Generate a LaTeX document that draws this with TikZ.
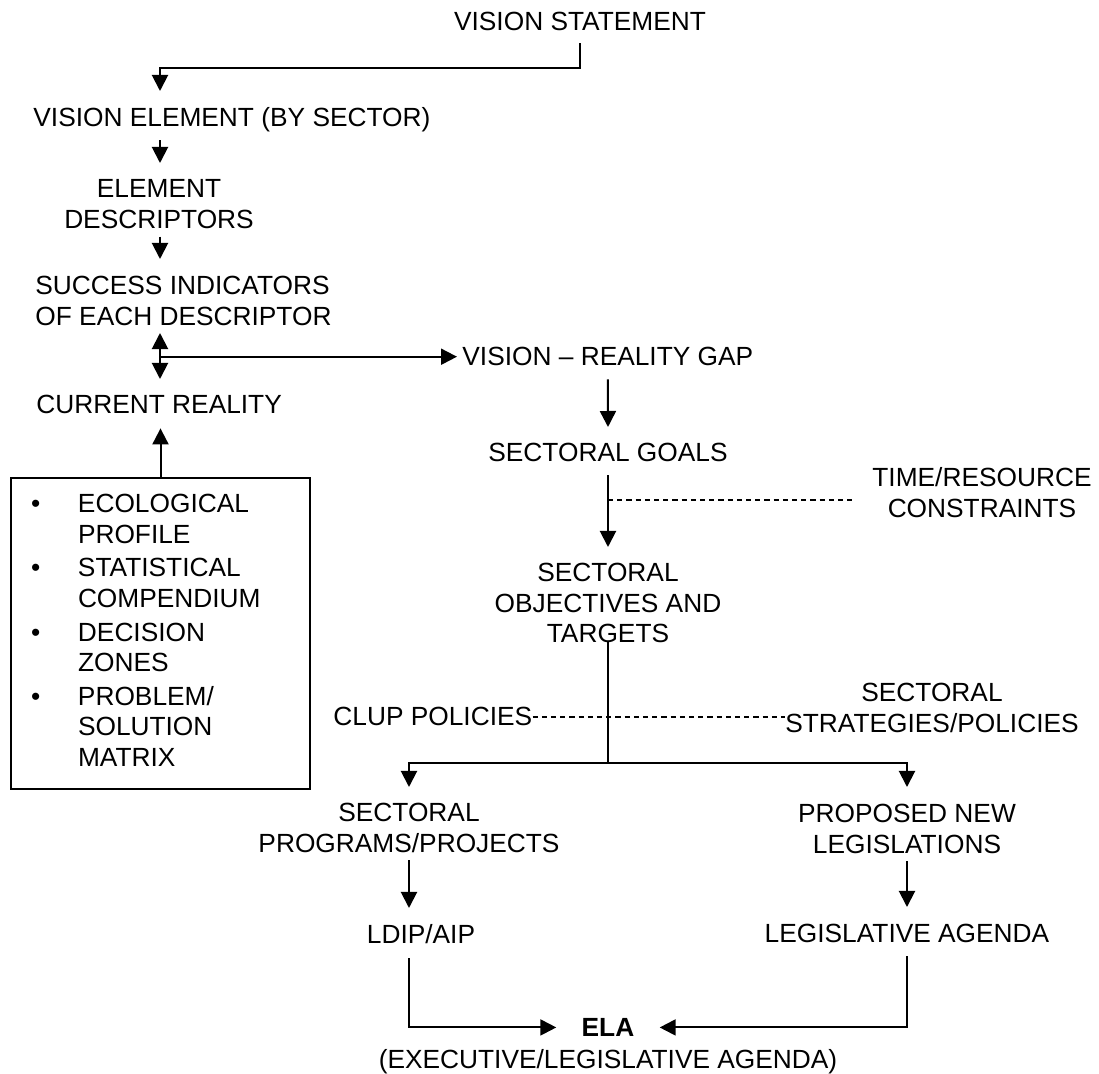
\documentclass[tikz,border=0pt]{standalone}
\usepackage{fontspec}
\setmainfont{Liberation Sans}
\usetikzlibrary{arrows.meta}
\newcommand{\lblfont}{\fontsize{13.15pt}{15.3pt}\selectfont}

\begin{document}
\begin{tikzpicture}[x=0.5pt, y=-0.5pt,
    >={Triangle[length=8pt,width=8pt]},
    lbl/.style={inner sep=0pt, font=\lblfont, align=center},
    lin/.style={line width=1pt},
    arr/.style={line width=1pt, ->},
    dsh/.style={line width=0.85pt, dash pattern=on 2.6pt off 2pt}]
    \useasboundingbox (0,0) rectangle (1099,1074);

    % Columns
    \coordinate (col) at (160,0);
    \coordinate (tj) at (608,500);
    \coordinate (br) at (608,763);

    % Left column
    \node[lbl, anchor=north] (vs) at (580,12) {VISION STATEMENT};
    \node[lbl, anchor=north west] (ve) at (33,107) {VISION ELEMENT (BY SECTOR)};
    \node[lbl, anchor=north] (ed) at (159,179) {ELEMENT\\DESCRIPTORS};
    \node[lbl, anchor=north west, align=left] (si) at (35,276) {SUCCESS INDICATORS\\OF EACH DESCRIPTOR};
    \node[lbl, anchor=north west] (cr) at (36,395) {CURRENT REALITY};

    % Data box
    \node[draw, line width=1pt, anchor=north west, inner sep=0pt, minimum width=149.5pt,
          minimum height=155.5pt, font=\lblfont] (src) at (10,477) {%
      \begin{tabular}{@{\hspace{10pt}}p{23.5pt}@{}p{116pt}@{}}
        \textbullet & ECOLOGICAL\\
                    & PROFILE\\[1.5pt]
        \textbullet & STATISTICAL\\
                    & COMPENDIUM\\[1.5pt]
        \textbullet & DECISION\\
                    & ZONES\\[1.5pt]
        \textbullet & PROBLEM/\\
                    & SOLUTION\\
                    & MATRIX
      \end{tabular}};

    % Right column
    \node[lbl, anchor=north west] (vrg) at (462,347) {VISION -- REALITY GAP};
    \node[lbl, anchor=north] (sg) at (608,443) {SECTORAL GOALS};
    \node[lbl, anchor=north] (trc) at (982,467) {TIME/RESOURCE\\CONSTRAINTS};
    \node[lbl, anchor=north] (sot) at (608,563) {SECTORAL\\OBJECTIVES AND\\TARGETS};
    \node[lbl, anchor=north west] (clup) at (333,707) {CLUP POLICIES};
    \node[lbl, anchor=north] (ssp) at (932,683) {SECTORAL\\STRATEGIES/POLICIES};

    % Bottom
    \node[lbl, anchor=north] (spp) at (409,803) {SECTORAL\\PROGRAMS/PROJECTS};
    \node[lbl, anchor=north] (pnl) at (907,804) {PROPOSED NEW\\LEGISLATIONS};
    \node[lbl, anchor=north] (ldip) at (421,924) {LDIP/AIP};
    \node[lbl, anchor=north] (la) at (907,924) {LEGISLATIVE AGENDA};
    \node[lbl, anchor=north, font=\lblfont\bfseries] (ela) at (608,1018) {ELA};
    \node[lbl, anchor=north] (exec) at (608,1049) {(EXECUTIVE/LEGISLATIVE AGENDA)};

    % Arrows
    \draw[arr] ([yshift=-6pt]vs.south) -- ++(0,25) -| ([yshift=8pt]col |- ve.north);
    \draw[arr] ([yshift=-4pt]col |- ve.south) -- ([yshift=8pt]col |- ed.north);
    \draw[arr] ([yshift=-4pt]col |- ed.south) -- ([yshift=8.5pt]col |- si.north);
    \draw[lin, <->] ([yshift=-3.5pt]col |- si.south) -- ([yshift=8pt]col |- cr.north);
    \draw[arr] (col |- vrg.west) -- ([xshift=-2.5pt]vrg.west);
    \draw[arr] (src.north) -- ([yshift=-7pt]src.north |- cr.south);
    \draw[arr] ([yshift=-6.5pt]vrg.south) -- ([yshift=8pt]sg.north);
    \draw[arr] ([yshift=-6.5pt]sg.south) -- ([yshift=8pt]sot.north);
    \draw[lin] ([yshift=1.5pt]sot.south) -- (br);
    \draw[arr] (br) -| ([yshift=8pt]spp.north);
    \draw[arr] (br) -| ([yshift=8.5pt]pnl.north);
    \draw[arr] ([yshift=-3.5pt]spp.south) -- ([yshift=8pt]spp.south |- ldip.north);
    \draw[arr] ([yshift=-3.5pt]pnl.south) -- ([yshift=8.5pt]la.north);
    \draw[arr] ([yshift=-7pt]spp.south |- ldip.south) |- ([xshift=-12.5pt]ela.west);
    \draw[arr] ([yshift=-6.5pt]la.south) |- ([xshift=12.5pt]ela.east);

    % Dashed links
    \draw[dsh] (tj) -- ([xshift=-10pt]tj -| trc.west);
    \draw[dsh] (clup.east) -- (clup.east -| ssp.west);
\end{tikzpicture}
\end{document}
